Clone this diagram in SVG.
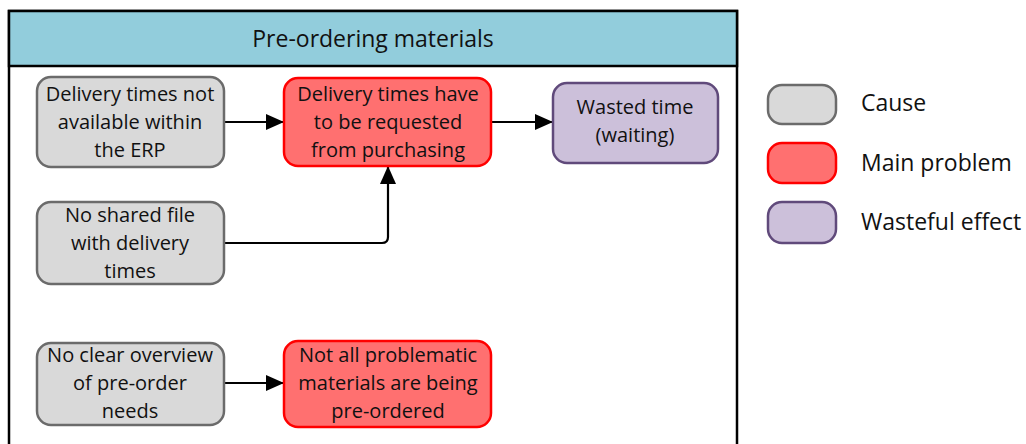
<svg xmlns="http://www.w3.org/2000/svg" width="1026" height="444" viewBox="0 0 1026 444">
<style>
text{font-family:"Open Sans","Liberation Sans",Arial,sans-serif;fill:#111;text-anchor:middle}
.n{font-size:20px}
.lg{font-size:23px;text-anchor:start}
.cause{fill:#d9d9d9;stroke:#6b6b6b;stroke-width:2.5}
.main{fill:#ff7070;stroke:#ff0000;stroke-width:2.5}
.waste{fill:#ccc0da;stroke:#604a7b;stroke-width:2.5}
.c{fill:none;stroke:#000;stroke-width:2.2}
</style>
<defs>
<marker id="ah" markerWidth="18" markerHeight="16" refX="18" refY="8" orient="auto" markerUnits="userSpaceOnUse" viewBox="0 0 18 16">
<path d="M0,0 L18,8 L0,16 Z" fill="#000"/>
</marker>
</defs>
<rect width="1026" height="444" fill="#fff"/>
<g id="frame">
<rect x="9" y="11" width="728" height="440" fill="#fff" stroke="#000" stroke-width="2.5"/>
<rect x="9" y="11" width="728" height="55" fill="#92cddc" stroke="#000" stroke-width="2.5"/>
<text x="373" y="47" style="font-size:23px">Pre-ordering materials</text>
</g>
<g id="connectors">
<path class="c" d="M224,122 H284" marker-end="url(#ah)"/>
<path class="c" d="M491,122 H553" marker-end="url(#ah)"/>
<path class="c" d="M224,243 H382 Q388,243 388,237 V166" marker-end="url(#ah)"/>
<path class="c" d="M224,383 H284" marker-end="url(#ah)"/>
</g>
<g id="n1"><rect class="cause" x="37" y="77" width="187" height="90" rx="14"/>
<text class="n" x="130" y="101">Delivery times not</text><text class="n" x="130" y="129">available within</text><text class="n" x="130" y="157">the ERP</text></g>
<g id="n2"><rect class="main" x="284" y="78" width="207" height="88" rx="14"/>
<text class="n" x="388" y="101">Delivery times have</text><text class="n" x="388" y="129">to be requested</text><text class="n" x="388" y="157">from purchasing</text></g>
<g id="n3"><rect class="waste" x="553" y="83" width="165" height="80" rx="14"/>
<text class="n" x="635" y="114">Wasted time</text><text class="n" x="635" y="142">(waiting)</text></g>
<g id="n4"><rect class="cause" x="37" y="202" width="187" height="82" rx="14"/>
<text class="n" x="130" y="222">No shared file</text><text class="n" x="130" y="250">with delivery</text><text class="n" x="130" y="278">times</text></g>
<g id="n5"><rect class="cause" x="37" y="343" width="187" height="82" rx="14"/>
<text class="n" x="130" y="362">No clear overview</text><text class="n" x="130" y="390">of pre-order</text><text class="n" x="130" y="418">needs</text></g>
<g id="n6"><rect class="main" x="284" y="341" width="207" height="86" rx="14"/>
<text class="n" x="388" y="362">Not all problematic</text><text class="n" x="388" y="390">materials are being</text><text class="n" x="388" y="418">pre-ordered</text></g>
<g id="legend">
<rect class="cause" x="768" y="85" width="68" height="39" rx="14"/>
<text class="lg" x="861" y="111">Cause</text>
<rect class="main" x="768" y="143" width="68" height="40" rx="14"/>
<text class="lg" x="861" y="171">Main problem</text>
<rect class="waste" x="768" y="202" width="68" height="41" rx="14"/>
<text class="lg" x="861" y="230">Wasteful effect</text>
</g>
</svg>
